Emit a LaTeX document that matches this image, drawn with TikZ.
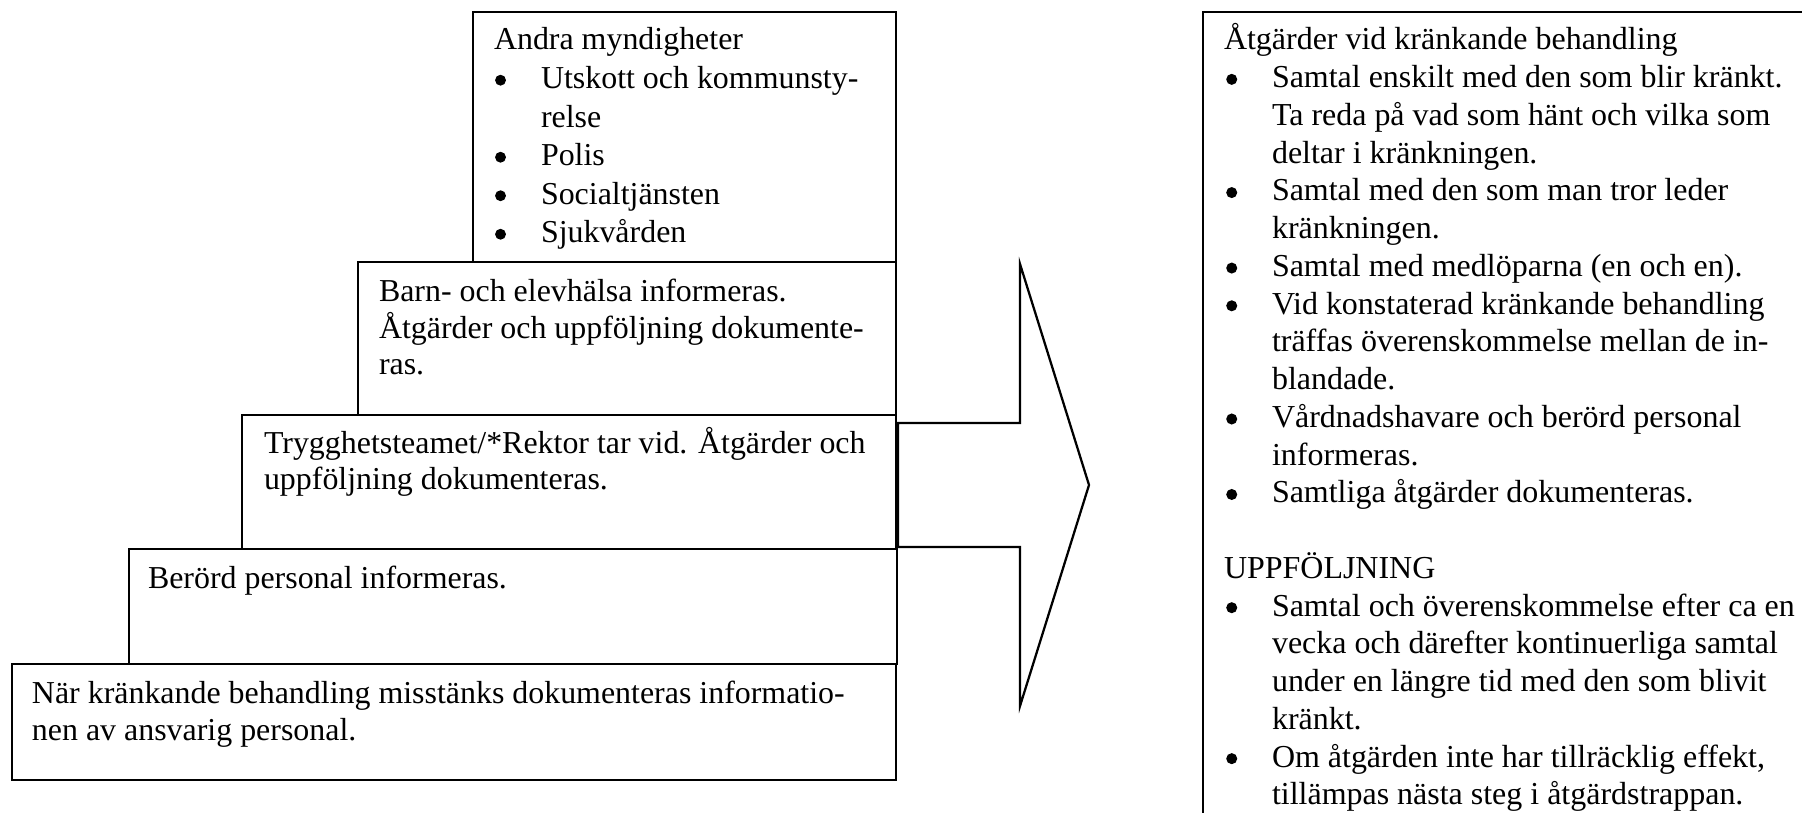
\documentclass[tikz,border=0pt]{standalone}
\usepackage{fontspec}
\usepackage{pict2e}
\setmainfont{Liberation Serif}
\newlength\pxu
\setlength\pxu{0.376pt}
\newcommand\dotL{\begingroup\setlength{\unitlength}{1pt}\begin{picture}(0,0)\put(2.45,3.12){\circle*{4.1}}\end{picture}\endgroup}
\newcommand\dotR{\begingroup\setlength{\unitlength}{1pt}\begin{picture}(0,0)\put(2.9,3.15){\circle*{4.15}}\end{picture}\endgroup}
\newcommand\bulL{\makebox[47\pxu][l]{\dotL}}
\newcommand\indL{\hspace*{47\pxu}}
\newcommand\bulR{\makebox[48\pxu][l]{\dotR}}
\newcommand\indR{\hspace*{48\pxu}}
\newcommand\fs[1]{\fontsize{12pt}{#1}\selectfont}
\newcommand\fsR{\fontsize{12.02pt}{14.19pt}\selectfont}
\begin{document}
\begin{tikzpicture}[x=0.376pt,y=-0.376pt,
  boxline/.style={draw=black, line width=0.85pt},
  txt/.style={anchor=base west, inner sep=0pt, outer sep=0pt}]
\useasboundingbox (0,0) rectangle (1802,813);
\fill[white] (0,0) rectangle (1802,813);
% corners of the steps
\coordinate (A1) at (473,12);  \coordinate (A2) at (896,262);
\coordinate (B1) at (358,262); \coordinate (B2) at (896,415);
\coordinate (C1) at (242,415); \coordinate (C2) at (896,549);
\coordinate (D1) at (129,549); \coordinate (D2) at (897,664);
\coordinate (E1) at (12,664);  \coordinate (E2) at (896,780);
\draw[boxline] (A1) rectangle (A2);
\draw[boxline] (B1) rectangle (B2);
\draw[boxline] (C1) rectangle (C2);
\draw[boxline] (D1) rectangle (D2);
\draw[boxline] (E1) rectangle (E2);
% arrow
\coordinate (S1) at (898,423); \coordinate (H1) at (1020,423);
\coordinate (HT) at (1020,264); \coordinate (TP) at (1089,485);
\coordinate (HB) at (1020,706); \coordinate (H2) at (1020,547);
\coordinate (S2) at (898,547);
\draw[boxline, line join=miter] (S1) -- (H1) -- (HT) -- (TP) -- (HB) -- (H2) -- (S2) -- cycle;
% right box
\coordinate (R0) at (1802,12); \coordinate (R1) at (1203,12); \coordinate (R2) at (1203,813);
\draw[boxline] (R0) -- (R1) -- (R2);
% texts
\node[txt] (tA) at (494,50) {\parbox[t]{900\pxu}{\fs{14.48pt}Andra myndigheter\\
\bulL Utskott och kommunsty-\\
\indL relse\\
\bulL Polis\\
\bulL Socialtjänsten\\
\bulL Sjukvården}};
\node[txt] (tB) at (379,302) {\parbox[t]{900\pxu}{\fs{13.54pt}Barn- och elevhälsa informeras.\\
Åtgärder och uppföljning dokumente-\\
ras.}};
\node[txt] (tC) at (264,453) {\parbox[t]{900\pxu}{\fs{13.91pt}Trygghetsteamet/*Rektor tar vid. Åtgärder och\\
uppföljning dokumenteras.}};
\node[txt] (tD) at (148,588) {\parbox[t]{900\pxu}{\fs{13.91pt}Berörd personal informeras.}};
\node[txt] (tE) at (32,703) {\parbox[t]{900\pxu}{\fs{13.91pt}När kränkande behandling misstänks dokumenteras informatio-\\
nen av ansvarig personal.}};
\node[txt] (tR) at (1224,50) {\parbox[t]{900\pxu}{\fsR Åtgärder vid kränkande behandling\\
\bulR Samtal enskilt med den som blir kränkt.\\
\indR Ta reda på vad som hänt och vilka som\\
\indR deltar i kränkningen.\\
\bulR Samtal med den som man tror leder\\
\indR kränkningen.\\
\bulR Samtal med medlöparna (en och en).\\
\bulR Vid konstaterad kränkande behandling\\
\indR träffas överenskommelse mellan de in-\\
\indR blandade.\\
\bulR Vårdnadshavare och berörd personal\\
\indR informeras.\\
\bulR Samtliga åtgärder dokumenteras.\\
\mbox{}\\
UPPFÖLJNING\\
\bulR Samtal och överenskommelse efter ca en\\
\indR vecka och därefter kontinuerliga samtal\\
\indR under en längre tid med den som blivit\\
\indR kränkt.\\
\bulR Om åtgärden inte har tillräcklig effekt,\\
\indR tillämpas nästa steg i åtgärdstrappan.}};
\end{tikzpicture}
\end{document}
